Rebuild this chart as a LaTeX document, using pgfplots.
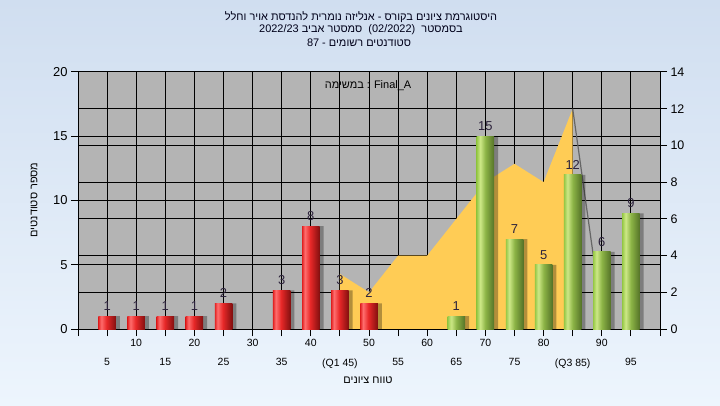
\documentclass[border=0pt]{standalone}
\usepackage{pgfplots}
\pgfplotsset{compat=1.18}
\usepackage{fontspec}
\setmainfont{Liberation Sans}
\newfontfamily\heb[Script=Hebrew]{Liberation Sans}
\TeXXeTstate=1
\definecolor{bgtop}{RGB}{208,222,240}
\definecolor{bgbot}{RGB}{237,245,253}
\definecolor{plotgray}{RGB}{180,180,180}
\definecolor{areac}{RGB}{255,204,85}
\definecolor{labc}{RGB}{45,35,60}
\definecolor{rA}{RGB}{225,35,35}
\definecolor{rB}{RGB}{255,110,110}
\definecolor{rC}{RGB}{232,40,40}
\definecolor{rD}{RGB}{130,15,15}
\definecolor{gA}{RGB}{150,200,70}
\definecolor{gB}{RGB}{205,232,135}
\definecolor{gC}{RGB}{140,180,70}
\definecolor{gD}{RGB}{85,115,40}
\pgfdeclarehorizontalshading{redbar}{100bp}{color(0bp)=(rA); color(25bp)=(rA); color(33bp)=(rB); color(48bp)=(rC); color(75bp)=(rD); color(100bp)=(rD)}
\pgfdeclarehorizontalshading{greenbar}{100bp}{color(0bp)=(gA); color(25bp)=(gA); color(35bp)=(gB); color(50bp)=(gC); color(75bp)=(gD); color(100bp)=(gD)}
\pgfplotsset{
  redb/.style={ybar, bar width=17.5bp, bar shift=0pt, draw=none, shading=redbar, nodes near coords},
  greenb/.style={ybar, bar width=17.5bp, bar shift=0pt, draw=none, shading=greenbar, nodes near coords}}
\newcommand\rbar[2]{\addplot[redb] coordinates {(#1,#2)};}
\newcommand\gbar[2]{\addplot[greenb] coordinates {(#1,#2)};}
\begin{document}
\begin{tikzpicture}[x=1bp,y=1bp]
\shade[top color=bgtop,bottom color=bgbot] (0,0) rectangle (720,405);
\begin{axis}[at={(78bp,76bp)}, anchor=south west, scale only axis,
  width=582bp, height=257bp, xmin=0, xmax=100, ymin=0, ymax=14,
  axis background/.style={fill=plotgray},
  grid=major, grid style={black, line width=1bp},
  xtick={0,5,...,100}, xticklabels={}, xtick pos=bottom,
  ytick={0,2,...,14}, ytick pos=right,
  extra y ticks={3.5,7,10.5}, extra y tick labels={},
  extra y tick style={grid=major, tick style={draw=none}},
  tick align=outside, major tick length=7bp,
  tick style={black, line width=1bp},
  axis line style={black, line width=1bp},
  yticklabel style={font=\fontsize{12.5}{14}\selectfont},
  /pgf/number format/assume math mode=true]
\addplot[fill=areac, draw=none] coordinates {(45,0)(45,3)(50,2)(55,4)(60,4)(65,6)(70,8)(75,9)(80,8)(85,12)(85,0)} \closedcycle;
\addplot[draw=black!60, line width=1.2bp] coordinates {(85,12)(90,0.7)};
\end{axis}
\begin{axis}[at={(78bp,76bp)}, anchor=south west, scale only axis,
  width=582bp, height=257bp, xmin=0, xmax=100, ymin=0, ymax=20,
  xtick={10,20,...,90}, xtick pos=bottom,
  extra x ticks={5,15,...,95},
  extra x tick labels={5,15,25,35,(Q1 45),55,65,75,(Q3 85),95},
  extra x tick style={xticklabel style={yshift=-19bp}},
  ytick={0,5,...,20}, ytick pos=left,
  tick align=outside, major tick length=7bp,
  tick style={black, line width=1bp},
  axis line style={black, line width=1bp},
  yticklabel style={font=\fontsize{13}{15}\selectfont},
  xticklabel style={font=\fontsize{10.5}{12}\selectfont},
  /pgf/number format/assume math mode=true,
  nodes near coords style={font=\fontsize{13}{15}\selectfont, text=labc, yshift=2bp}]
\addplot[ybar, bar width=17.5bp, bar shift=4bp, fill=black, fill opacity=0.3, draw=none, forget plot] coordinates {(5,1)(10,1)(15,1)(20,1)(25,2)(35,3)(40,8)(45,3)(50,2)(65,1)(70,15)(75,7)(80,5)(85,12)(90,6)(95,9)};
\rbar{5}{1}
\rbar{10}{1}
\rbar{15}{1}
\rbar{20}{1}
\rbar{25}{2}
\rbar{35}{3}
\rbar{40}{8}
\rbar{45}{3}
\rbar{50}{2}
\gbar{65}{1}
\gbar{70}{15}
\gbar{75}{7}
\gbar{80}{5}
\gbar{85}{12}
\gbar{90}{6}
\gbar{95}{9}
\end{axis}
\node[font=\fontsize{11}{13}\selectfont\heb, text=black!90!blue] at (361,388) {\beginR היסטוגרמת ציונים בקורס - אנליזה נומרית להנדסת אויר וחלל\endR};
\node[font=\fontsize{11}{13}\selectfont\heb, text=black!90!blue] at (361,375) {\beginR בסמסטר\ \ \beginL(02/2022)\endL\ \ סמסטר אביב \beginL2022/23\endL\endR};
\node[font=\fontsize{11}{13}\selectfont\heb, text=black!90!blue] at (359,362) {\beginR סטודנטים רשומים - \beginL87\endL\endR};
\node[font=\fontsize{11}{13}\selectfont\heb] at (368,319) {\beginR במשימה\endR\ : Final\_A};
\node[font=\fontsize{11}{13}\selectfont\heb, rotate=90] at (34,205) {\beginR מספר סטודנטים\endR};
\node[font=\fontsize{11}{13}\selectfont\heb] at (368,25) {\beginR טווח ציונים\endR};
\end{tikzpicture}
\end{document}
